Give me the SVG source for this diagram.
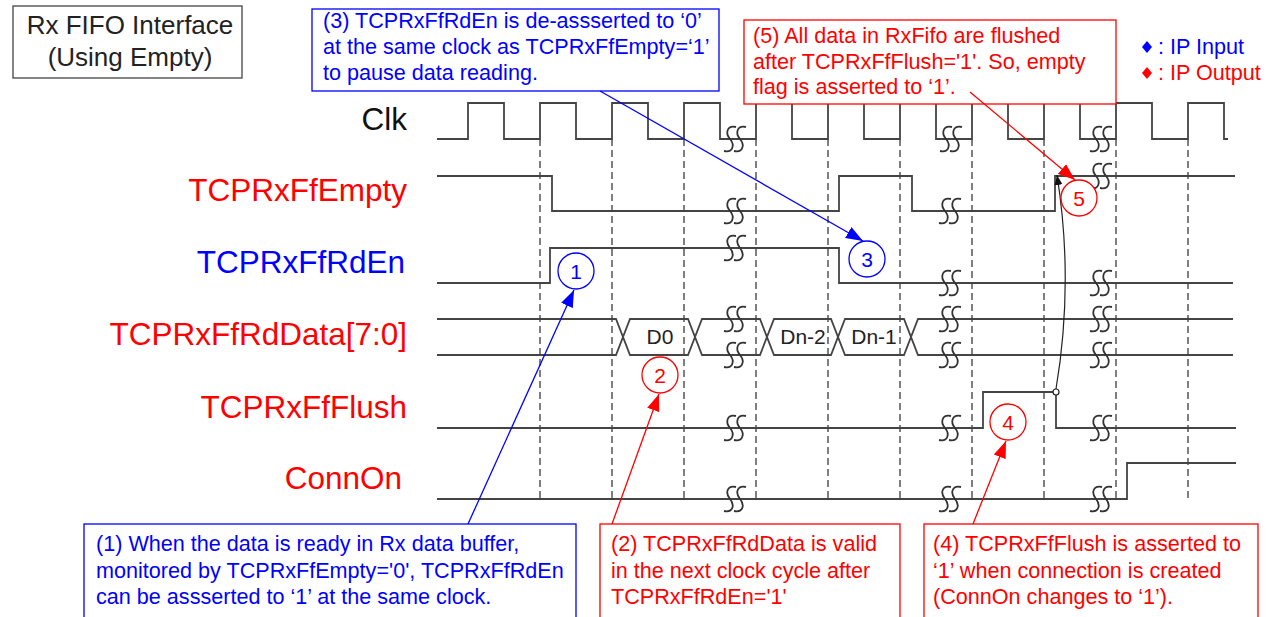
<svg xmlns="http://www.w3.org/2000/svg" width="1272" height="617" viewBox="0 0 1272 617">
<style>
.bg{fill:#fff}
.sig{fill:none;stroke:#444;stroke-width:1.8}
.dash{fill:none;stroke:#555;stroke-width:1.5;stroke-dasharray:7,4}
.brk{fill:none;stroke:#333;stroke-width:1.8}
.lbl{font-family:"Liberation Sans",Arial,sans-serif;font-size:31.5px;text-anchor:end}
.txt{font-family:"Liberation Sans",Arial,sans-serif;font-size:21.6px}
.num{font-family:"Liberation Sans",Arial,sans-serif;font-size:21px;text-anchor:middle}
.red{fill:#ff0000}
.blue{fill:#0000ff}
.boxr{fill:#fff;stroke:#ff0000;stroke-width:1.3}
.boxb{fill:#fff;stroke:#0000ff;stroke-width:1.3}
.cr{fill:#fff;stroke:#ff0000;stroke-width:1.3}
.cb{fill:#fff;stroke:#0000ff;stroke-width:1.3}
.ar{fill:none;stroke:#ff0000;stroke-width:1.3}
.ab{fill:none;stroke:#0000ff;stroke-width:1.3}
.ak{fill:none;stroke:#222;stroke-width:1.2}
</style>
<defs>
<marker id="mr" viewBox="0 0 16 12" refX="16" refY="6" markerWidth="17" markerHeight="13" orient="auto" markerUnits="userSpaceOnUse"><path d="M0,0 L16,6 L0,12 z" fill="#ff0000"/></marker>
<marker id="mb" viewBox="0 0 16 12" refX="16" refY="6" markerWidth="17" markerHeight="13" orient="auto" markerUnits="userSpaceOnUse"><path d="M0,0 L16,6 L0,12 z" fill="#0000ff"/></marker>
<marker id="mk" viewBox="0 0 10 8" refX="10" refY="4" markerWidth="10" markerHeight="8" orient="auto" markerUnits="userSpaceOnUse"><path d="M0,0 L10,4 L0,8 z" fill="#111"/></marker>
<g id="brk"><path class="brk" d="M1,-12 C-8,-14 -10,-6 -5,0 C0,6 -2,14 -11,12"/><path class="brk" d="M11,-12 C2,-14 0,-6 5,0 C10,6 8,14 -1,12"/></g>
</defs>
<rect class="bg" x="0" y="0" width="1272" height="617"/>

<g id="title">
<rect x="13" y="6" width="229" height="72" fill="#fff" stroke="#444" stroke-width="1.3"/>
<text class="txt" x="130" y="34" text-anchor="middle" style="font-size:26px" fill="#222">Rx FIFO Interface</text>
<text class="txt" x="130" y="66" text-anchor="middle" style="font-size:26px" fill="#222">(Using Empty)</text>
</g>

<g id="legend">
<path d="M1147,41 L1152,47 L1147,53 L1142,47 z" fill="#0000ff"/>
<text class="txt blue" x="1158" y="54">: IP Input</text>
<path d="M1147,67 L1152,73 L1147,79 L1142,73 z" fill="#ff0000"/>
<text class="txt red" x="1158" y="80">: IP Output</text>
</g>

<g id="labels">
<text class="lbl" x="407" y="130" fill="#111">Clk</text>
<text class="lbl red" x="407" y="201">TCPRxFfEmpty</text>
<text class="lbl blue" x="405" y="273">TCPRxFfRdEn</text>
<text class="lbl red" x="407" y="345">TCPRxFfRdData[7:0]</text>
<text class="lbl red" x="407" y="418">TCPRxFfFlush</text>
<text class="lbl red" x="402" y="489">ConnOn</text>
</g>

<g id="gridlines">
<path class="dash" d="M540,139 V500 M612,139 V500 M684,139 V500 M756,139 V500 M828,139 V500 M900,139 V500 M972,139 V500 M1044,139 V500 M1116,139 V500 M1188,139 V500"/>
</g>

<g id="sig-clk">
<path class="sig" d="M437,139 H468 V103 H504 V139 H540 V103 H576 V139 H612 V103 H648 V139 H684 V103 H720 V139 H756 V103 H792 V139 H828 V103 H864 V139 H900 V103 H936 V139 H972 V103 H1008 V139 H1044 V103 H1080 V139 H1116 V103 H1152 V139 H1188 V103 H1224 V139 H1228"/>
<use href="#brk" x="735" y="139"/><use href="#brk" x="951" y="139"/><use href="#brk" x="1101" y="139"/>
</g>
<g id="sig-empty">
<path class="sig" d="M437,176 H552 V211 H839 V176 H912 V211 H1055 V176 H1235"/>
<use href="#brk" x="735" y="211"/><use href="#brk" x="950" y="211"/><use href="#brk" x="1101" y="176"/>
</g>
<g id="sig-rden">
<path class="sig" d="M437,283 H550 V248 H839 V283 H1233"/>
<use href="#brk" x="735" y="248"/><use href="#brk" x="950" y="283"/><use href="#brk" x="1101" y="283"/>
</g>
<g id="sig-data">
<path class="sig" d="M437,319 H616 L630,355 H688 L702,319 H760 L774,355 H831 L845,319 H904 L918,355 H1233"/>
<path class="sig" d="M437,355 H616 L630,319 H688 L702,355 H760 L774,319 H831 L845,355 H904 L918,319 H1233"/>
<use href="#brk" x="735" y="319"/><use href="#brk" x="735" y="355"/>
<use href="#brk" x="950" y="319"/><use href="#brk" x="950" y="355"/>
<use href="#brk" x="1101" y="319"/><use href="#brk" x="1101" y="355"/>
<text class="num" x="660" y="344" fill="#222">D0</text>
<text class="num" x="803" y="344" fill="#222">Dn-2</text>
<text class="num" x="874" y="344" fill="#222">Dn-1</text>
</g>
<g id="sig-flush">
<path class="sig" d="M437,428 H983 V392 H1056 V428 H1236"/>
<use href="#brk" x="735" y="428"/><use href="#brk" x="950" y="428"/><use href="#brk" x="1101" y="428"/>
</g>
<g id="sig-connon">
<path class="sig" d="M437,499 H1127 V463 H1236"/>
<use href="#brk" x="735" y="499"/><use href="#brk" x="950" y="499"/><use href="#brk" x="1101" y="499"/>
</g>

<g id="box3">
<rect class="boxb" x="312" y="9" width="407" height="82"/>
<text class="txt blue" x="323" y="28">(3) TCPRxFfRdEn is de-assserted to ‘0’</text>
<text class="txt blue" x="323" y="54">at the same clock as TCPRxFfEmpty=‘1’</text>
<text class="txt blue" x="323" y="80">to pause data reading.</text>
</g>
<g id="box5">
<rect class="boxr" x="744" y="20" width="372" height="84"/>
<text class="txt red" x="753" y="43">(5) All data in RxFifo are flushed</text>
<text class="txt red" x="753" y="69">after TCPRxFfFlush='1'. So, empty</text>
<text class="txt red" x="753" y="94">flag is asserted to ‘1’.</text>
</g>
<g id="box1">
<rect class="boxb" x="84" y="524" width="492" height="100"/>
<text class="txt blue" x="96" y="551">(1) When the data is ready in Rx data buffer,</text>
<text class="txt blue" x="96" y="578">monitored by TCPRxFfEmpty='0', TCPRxFfRdEn</text>
<text class="txt blue" x="96" y="604">can be assserted to ‘1’ at the same clock.</text>
</g>
<g id="box2">
<rect class="boxr" x="600" y="524" width="300" height="100"/>
<text class="txt red" x="611" y="551">(2) TCPRxFfRdData is valid</text>
<text class="txt red" x="611" y="578">in the next clock cycle after</text>
<text class="txt red" x="611" y="604">TCPRxFfRdEn='1'</text>
</g>
<g id="box4">
<rect class="boxr" x="924" y="524" width="334" height="100"/>
<text class="txt red" x="933" y="551">(4) TCPRxFfFlush is asserted to</text>
<text class="txt red" x="933" y="578">‘1’ when connection is created</text>
<text class="txt red" x="933" y="604">(ConnOn changes to ‘1’).</text>
</g>

<g id="connectors">
<path class="ab" d="M600,91 L863,241" marker-end="url(#mb)"/>
<path class="ar" d="M970,92 L1075,180" marker-end="url(#mr)"/>
<path class="ab" d="M468,524 L574,290" marker-end="url(#mb)"/>
<path class="ar" d="M612,524 L659,394" marker-end="url(#mr)"/>
<path class="ar" d="M973,524 L1006,441" marker-end="url(#mr)"/>
<path class="ak" d="M1056,389 Q1074,282 1057,175" marker-end="url(#mk)"/>
<circle cx="1056" cy="392" r="3" fill="#fff" stroke="#222" stroke-width="1.2"/>
</g>

<g id="c1"><circle class="cb" cx="576" cy="271" r="18"/><text class="num blue" x="576" y="279">1</text></g>
<g id="c2"><circle class="cr" cx="660" cy="375" r="18"/><text class="num red" x="660" y="383">2</text></g>
<g id="c3"><circle class="cb" cx="867" cy="259" r="18"/><text class="num blue" x="867" y="267">3</text></g>
<g id="c4"><circle class="cr" cx="1008" cy="422" r="18"/><text class="num red" x="1008" y="430">4</text></g>
<g id="c5"><circle class="cr" cx="1079" cy="198" r="18"/><text class="num red" x="1079" y="206">5</text></g>
</svg>
